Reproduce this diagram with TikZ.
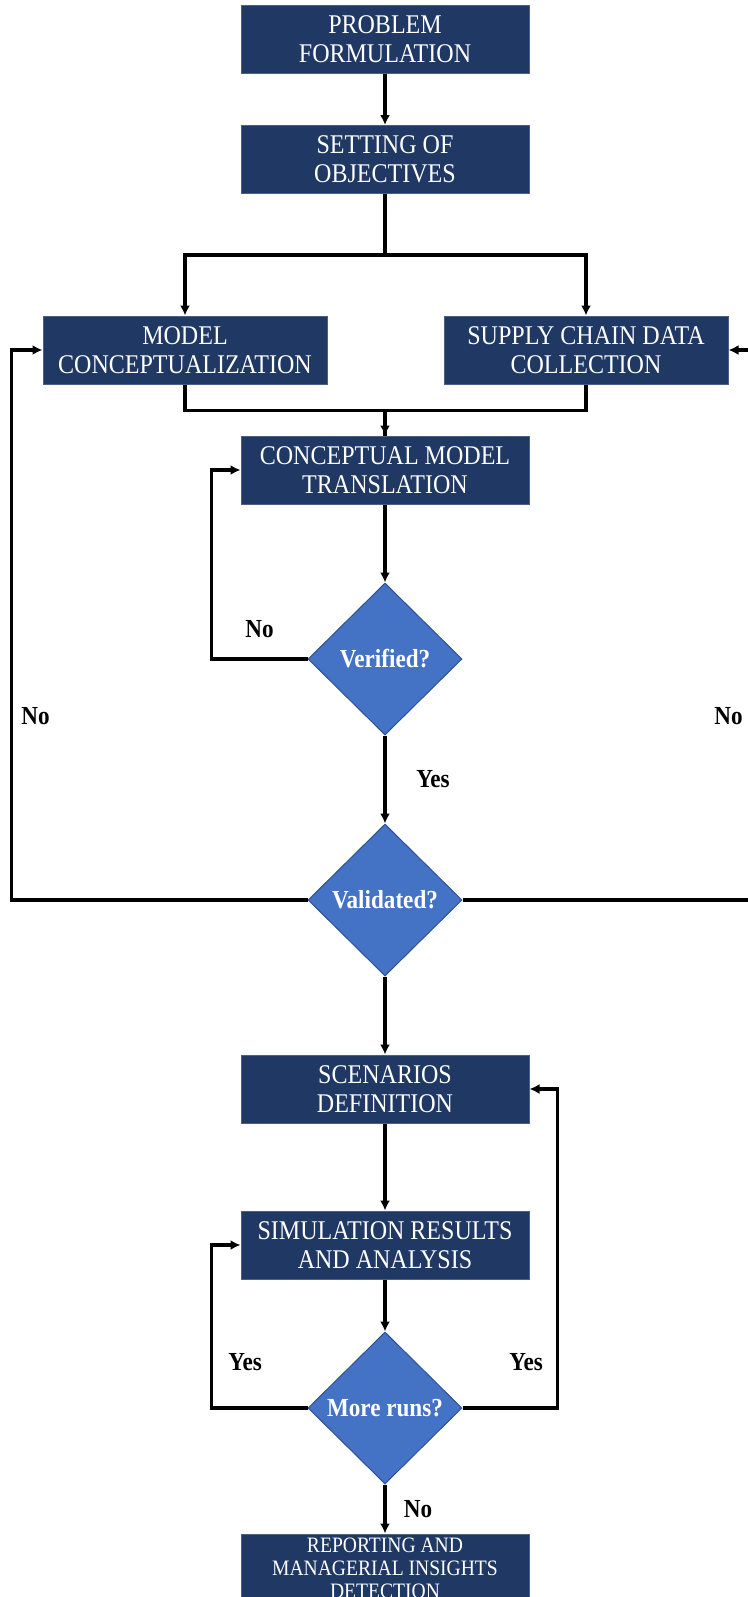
\documentclass[tikz,border=0pt]{standalone}
\usepackage{fontspec}
\setmainfont{Liberation Serif}[FakeStretch=0.89]
\usepackage{xcolor}
\usetikzlibrary{positioning,arrows.meta,shapes.geometric}
\definecolor{boxblue}{HTML}{1F3864}
\definecolor{diamblue}{HTML}{4472C4}
\definecolor{diamedge}{HTML}{2F528F}

\begin{document}
\begin{tikzpicture}[>={Latex[length=5pt,width=5pt]},line width=1.6pt,node distance=2cm,on grid]
            \tikzstyle{block}=[rectangle, fill=boxblue, draw=boxblue!80!white, line width=0.5pt, text=white, align=center,
                               minimum width=144pt, minimum height=34pt, inner sep=0pt, font=\fontsize{13.5}{14.3}\selectfont]
            \tikzstyle{decision}=[diamond, fill=diamblue, draw=diamedge, line width=0.5pt, text=white, inner sep=0pt,
                                  minimum width=77pt, minimum height=76pt, font=\bfseries\fontsize{13}{14}\selectfont]
            \tikzstyle{lbl}=[font=\bfseries\fontsize{13}{14}\selectfont]

            \useasboundingbox (0,0) rectangle (374pt,-798.5pt);
            \clip (0,0) rectangle (374pt,-798.5pt);

            \node[block]                    (problem)     at (192.5pt,-19.5pt)                  {PROBLEM\\FORMULATION};
            \node[block]                    (setting)     [below = 60.25pt of problem]          {SETTING OF\\OBJECTIVES};
            \node[block, minimum width=142pt] (model)     [below left = 95.25pt and 100pt of setting]  {MODEL\\CONCEPTUALIZATION};
            \node[block, minimum width=142pt] (supply)    [below right = 95.25pt and 100.5pt of setting] {SUPPLY CHAIN DATA\\COLLECTION};
            \node[block]                    (translation) [below = 155.25pt of setting]         {CONCEPTUAL MODEL\\TRANSLATION};
            \node[decision]                 (verified)    [below = 94.5pt of translation]       {Verified?};
            \node[decision]                 (validated)   [below = 120.5pt of verified]         {Validated?};
            \node[block]                    (scenarios)   [below = 94.5pt of validated]         {SCENARIOS\\DEFINITION};
            \node[block]                    (simulation)  [below = 78pt of scenarios]           {SIMULATION RESULTS\\AND ANALYSIS};
            \node[decision]                 (moreruns)    [below = 81.5pt of simulation]        {More runs?};
            \node[block, font=\fontsize{11}{11.5}\selectfont]
                                            (reporting)   [below = 80pt of moreruns]            {REPORTING AND\\MANAGERIAL INSIGHTS\\DETECTION};

            \draw[->] (problem) -- (setting);
            \draw[->] (setting.south) -- ++(0,-30.5pt) coordinate (split) -| (model.north);
            \draw[->] (split) -| (supply.north);
            \draw[->] (model.south) -- ++(0,-13pt) -| (translation.north);
            \draw     (supply.south) -- ++(0,-13pt) -| (translation.north);
            \draw[->] (translation) -- (verified);
            \draw[->] (verified.west) -- node[lbl, yshift=15pt] {No} ++(-48pt,0) |- (translation.west);
            \draw[->] (verified) -- node[lbl, xshift=24pt] {Yes} (validated);
            \draw[->] (validated.west) -- ++(-148pt,0) |- node[lbl, pos=0.167, xshift=12pt] {No} (model.west);
            \draw[->] (validated.east) -- ++(150pt,0) |- node[lbl, pos=0.167, xshift=-17pt] {No} (supply.east);
            \draw[->] (validated) -- (scenarios);
            \draw[->] (scenarios) -- (simulation);
            \draw[->] (simulation) -- (moreruns);
            \draw[->] (moreruns.west) -- node[lbl, pos=0.65, yshift=23pt] {Yes} ++(-48pt,0) |- (simulation.west);
            \draw[->] (moreruns.east) -- node[lbl, pos=0.67, yshift=23pt] {Yes} ++(47.5pt,0) |- (scenarios.east);
            \draw[->] (moreruns) -- node[lbl, xshift=16.5pt] {No} (reporting);
        \end{tikzpicture}
\end{document}
